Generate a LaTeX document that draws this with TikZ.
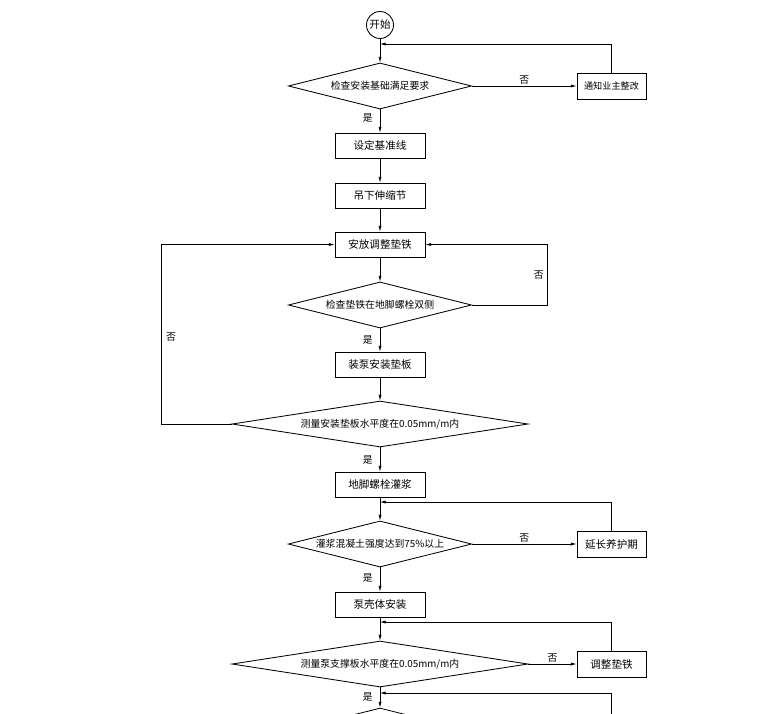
\documentclass[tikz,border=0pt]{standalone}
\usepackage{fontspec}
\setmainfont{Noto Sans CJK SC}
\usepackage{tikz}
\usetikzlibrary{shapes.geometric,arrows.meta}
\tikzset{>={Latex[length=4pt,width=2.2pt]}}
\tikzset{
  stepbox/.style={draw, line width=0.6pt, minimum width=2.25cm, minimum height=0.625cm,
    inner sep=0pt, font=\fontsize{7.5}{8}\selectfont},
  sidebox/.style={stepbox, minimum width=1.725cm, minimum height=0.65cm},
  check/.style={draw, diamond, aspect=6, inner sep=0pt, line width=0.6pt,
    minimum width=4.575cm, minimum height=1.15cm, font=\fontsize{7}{8}\selectfont},
  widecheck/.style={check, minimum width=7.4cm},
  flow/.style={line width=0.5pt},
  yesno/.style={font=\fontsize{7}{8}\selectfont, inner sep=1pt}
}

\begin{document}
\begin{tikzpicture}[x=0.025cm, y=-0.025cm]
    \useasboundingbox (0, 0) rectangle (760, 713);
    \clip (0, 0) rectangle (760, 713);
    % main column
    \node[draw, circle, line width=0.6pt, minimum size=0.675cm, inner sep=0pt,
          font=\fontsize{7.5}{8}\selectfont] (start) at (380, 25) {开始};
    \node[check] (base) at (380, 86) {检查安装基础满足要求};
    \node[stepbox] (datum) at (380, 145.5) {设定基准线};
    \node[stepbox] (joint) at (380, 195.5) {吊下伸缩节};
    \node[stepbox] (shim) at (380, 244.5) {安放调整垫铁};
    \node[check] (shimpos) at (380, 305) {检查垫铁在地脚螺栓双侧};
    \node[stepbox] (plate) at (380, 364.5) {装泵安装垫板};
    \node[widecheck] (platelevel) at (380, 424) {测量安装垫板水平度在0.05mm/m内};
    \node[stepbox] (grout) at (380, 484.5) {地脚螺栓灌浆};
    \node[check] (strength) at (380, 544) {灌浆混凝土强度达到75\%以上};
    \node[stepbox] (casing) at (380, 604.5) {泵壳体安装};
    \node[widecheck] (supportlevel) at (380, 664) {测量泵支撑板水平度在0.05mm/m内};
    \node[check] (nextcheck) at (380, 731) {};
    % side boxes
    \node[sidebox, font=\fontsize{6.5}{7}\selectfont] (notify) at (611.5, 86) {通知业主整改};
    \node[sidebox] (cure) at (611.5, 544) {延长养护期};
    \node[sidebox] (readjust) at (611.5, 664) {调整垫铁};
    % junctions on the main line
    \coordinate (j1) at (380, 44);
    \coordinate (j2) at (380, 502);
    \coordinate (j3) at (380, 622);
    \coordinate (j4) at (380, 693);
    \coordinate (below) at (611.5, 740);

    \draw[flow, ->] (start) -- (base);
    \draw[flow, ->] (base) -- node[yesno, pos=0.38, left=4pt] {是} (datum);
    \draw[flow, ->] (datum) -- (joint);
    \draw[flow, ->] (joint) -- (shim);
    \draw[flow, ->] (shim) -- (shimpos);
    \draw[flow, ->] (shimpos) -- node[yesno, pos=0.5, left=4pt] {是} (plate);
    \draw[flow, ->] (plate) -- (platelevel);
    \draw[flow, ->] (platelevel) -- node[yesno, pos=0.5, left=4pt] {是} (grout);
    \draw[flow, ->] (grout) -- (strength);
    \draw[flow, ->] (strength) -- node[yesno, pos=0.45, left=4pt] {是} (casing);
    \draw[flow, ->] (casing) -- (supportlevel);
    \draw[flow, ->] (supportlevel) -- node[yesno, pos=0.48, left=4pt] {是} (nextcheck);

    \draw[flow, ->] (base) -- node[yesno, above] {否} (notify);
    \draw[flow, ->] (notify) |- (j1);
    \draw[flow, ->] (shimpos.east) -- ++(75, 0) |- node[yesno, pos=0.25, left=1pt] {否} (shim.east);
    \draw[flow, ->] (platelevel.west) -- ++(-70, 0) |- node[yesno, pos=0.243, right=2pt] {否} (shim.west);
    \draw[flow, ->] (strength) -- node[yesno, above] {否} (cure);
    \draw[flow, ->] (cure) |- (j2);
    \draw[flow, ->] (supportlevel) -- node[yesno, above] {否} (readjust);
    \draw[flow, ->] (readjust) |- (j3);
    \draw[flow, ->] (below) |- (j4);
  \end{tikzpicture}
\end{document}
